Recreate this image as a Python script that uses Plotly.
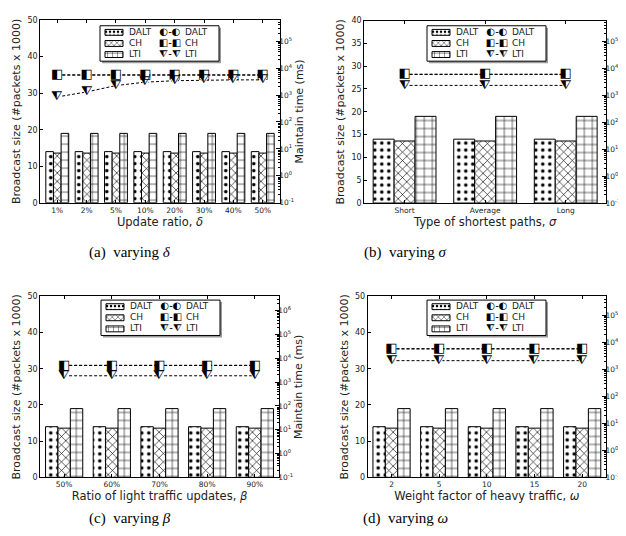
import plotly.graph_objects as go

W, H = 626, 536

series = ["DALT", "CH", "LTI"]

# ---------------- data ----------------
cats_a = ["1%", "2%", "5%", "10%", "20%", "30%", "40%", "50%"]
size_dalt_a = [14.0, 14.0, 14.0, 14.0, 14.0, 14.0, 14.0, 14.0]
size_ch_a = [13.6, 13.6, 13.6, 13.6, 13.6, 13.6, 13.6, 13.6]
size_lti_a = [19.0, 19.0, 19.0, 19.0, 19.0, 19.0, 19.0, 19.0]
time_dalt_a = [5500, 5500, 5500, 5500, 5500, 5500, 5500, 5500]
time_ch_a = [5600, 5600, 5600, 5600, 5600, 5600, 5600, 5600]
time_lti_a = [850, 1300, 2250, 3000, 3400, 3600, 3650, 3650]

cats_b = ["Short", "Average", "Long"]
size_dalt_b = [14.0, 14.0, 14.0]
size_ch_b = [13.6, 13.6, 13.6]
size_lti_b = [19.0, 19.0, 19.0]
time_dalt_b = [6000, 6000, 6000]
time_ch_b = [6100, 6100, 6100]
time_lti_b = [2350, 2350, 2350]

cats_c = ["50%", "60%", "70%", "80%", "90%"]
size_dalt_c = [14.0, 14.0, 14.0, 14.0, 14.0]
size_ch_c = [13.6, 13.6, 13.6, 13.6, 13.6]
size_lti_c = [19.0, 19.0, 19.0, 19.0, 19.0]
time_dalt_c = [5000, 5000, 5000, 5000, 5000]
time_ch_c = [5100, 5100, 5100, 5100, 5100]
time_lti_c = [1850, 1850, 1850, 1850, 1850]

cats_d = ["2", "5", "10", "15", "20"]
size_dalt_d = [14.0, 14.0, 14.0, 14.0, 14.0]
size_ch_d = [13.6, 13.6, 13.6, 13.6, 13.6]
size_lti_d = [19.0, 19.0, 19.0, 19.0, 19.0]
time_dalt_d = [5700, 5700, 5700, 5700, 5700]
time_ch_d = [5800, 5800, 5800, 5800, 5800]
time_lti_d = [2100, 2100, 2100, 2100, 2100]

log_tick_exps = [-1, 0, 1, 2, 3, 4, 5, 6]

# ---------------- styling ----------------
TXT = "#222222"
FONT = "DejaVu Sans"
glyphs = ["\u25D0", "\u25E7", "\u29E8"]
under_symbols = ["circle", "square", "triangle-down"]
patterns = [
    dict(shape=".", size=7, solidity=0.2),
    dict(shape="x", size=6, solidity=0.2),
    dict(shape="+", size=8, solidity=0.14),
]

panels = [
    dict(cats=cats_a, sizes=[size_dalt_a, size_ch_a, size_lti_a],
         times=[time_dalt_a, time_ch_a, time_lti_a],
         xpx=(32.3, 271.7), ypx=(8.3, 194.0), yr=[0, 50], dt=10, logtop=5.78,
         xtitle="Update ratio, <i>δ</i>", cap="(a)  varying <i>δ</i>", cappx=(122, 245),
         leg=(92, 14)),
    dict(cats=cats_b, sizes=[size_dalt_b, size_ch_b, size_lti_b],
         times=[time_dalt_b, time_ch_b, time_lti_b],
         xpx=(356.3, 598.0), ypx=(8.7, 194.3), yr=[0, 40], dt=5, logtop=5.78,
         xtitle="Type of shortest paths, <i>σ</i>", cap="(b)  varying <i>σ</i>", cappx=(397, 245),
         leg=(419, 14)),
    dict(cats=cats_c, sizes=[size_dalt_c, size_ch_c, size_lti_c],
         times=[time_dalt_c, time_ch_c, time_lti_c],
         xpx=(32.3, 270.7), ypx=(289.3, 473.3), yr=[0, 50], dt=10, logtop=6.6,
         xtitle="Ratio of light traffic updates, <i>β</i>", cap="(c)  varying <i>β</i>", cappx=(122, 515),
         leg=(93, 293)),
    dict(cats=cats_d, sizes=[size_dalt_d, size_ch_d, size_lti_d],
         times=[time_dalt_d, time_ch_d, time_lti_d],
         xpx=(359.7, 598.0), ypx=(289.3, 473.3), yr=[0, 50], dt=10, logtop=5.7,
         xtitle="Weight factor of heavy traffic, <i>ω</i>", cap="(d)  varying <i>ω</i>", cappx=(397, 515),
         leg=(419, 293)),
]


def nm(prefix, n):
    return prefix + ("" if n == 1 else str(n))


fig = go.Figure()
layout = {}
shapes = []
annotations = []

LW, LH = 119, 36
row_y = [6.7, 18.0, 29.3]

minor_vals = [m * 10 ** e for e in range(-1, 7) for m in range(2, 10)]

for i, p in enumerate(panels, start=1):
    xa, ya, yr2 = nm("x", i), nm("y", i), nm("y", i + 4)
    ix, iy = nm("x", i + 4), nm("y", i + 8)

    # bars (broadcast size)
    for k in range(3):
        fig.add_trace(go.Bar(
            x=p["cats"], y=p["sizes"][k], name=series[k], xaxis=xa, yaxis=ya,
            marker=dict(color="white", line=dict(color="black", width=1),
                        pattern=dict(fgcolor="black", bgcolor="white", fillmode="replace",
                                     **patterns[k])),
            showlegend=False, hoverinfo="skip"))
    # lines (maintain time, log axis)
    for k in range(3):
        if k == 0:
            fig.add_trace(go.Scatter(
                x=p["cats"], y=p["times"][k], xaxis=xa, yaxis=yr2, mode="lines+markers",
                line=dict(color="black", dash="3px,2px", width=1),
                marker=dict(symbol="circle", size=6, color="white",
                            line=dict(color="black", width=1)),
                showlegend=False, hoverinfo="skip"))
            continue
        fig.add_trace(go.Scatter(
            x=p["cats"], y=p["times"][k], xaxis=xa, yaxis=yr2, mode="lines+markers",
            line=dict(color="black", dash="3px,2px", width=1),
            marker=dict(symbol=under_symbols[k], size=8, color="white"),
            showlegend=False, hoverinfo="skip"))
        fig.add_trace(go.Scatter(
            x=p["cats"], y=p["times"][k], xaxis=xa, yaxis=yr2, mode="text",
            text=[glyphs[k]] * len(p["cats"]), textposition="middle center",
            textfont=dict(family=FONT, size=13, color="black"),
            showlegend=False, hoverinfo="skip"))

    x0, x1 = p["xpx"]
    yt, yb = p["ypx"]
    layout[nm("xaxis", i)] = dict(
        domain=[x0 / W, x1 / W], anchor=ya, type="category",
        showline=True, linecolor="black", linewidth=1, mirror="ticks",
        ticks="inside", ticklen=3, tickcolor="black",
        tickfont=dict(family=FONT, size=7.5, color=TXT),
        title=dict(text=p["xtitle"], font=dict(family=FONT, size=11.5, color=TXT), standoff=0),
        showgrid=False, zeroline=False)
    layout[nm("yaxis", i)] = dict(
        domain=[1 - yb / H, 1 - yt / H], anchor=xa, range=p["yr"], dtick=p["dt"],
        showline=True, linecolor="black", linewidth=1,
        ticks="inside", ticklen=3, tickcolor="black",
        tickfont=dict(family=FONT, size=8, color=TXT),
        title=dict(text="Broadcast size (#packets x 1000)", font=dict(family=FONT, size=11, color=TXT), standoff=4),
        showgrid=False, zeroline=False)
    layout[nm("yaxis", i + 4)] = dict(
        overlaying=ya, anchor=xa, side="right", type="log", range=[-1, p["logtop"]],
        tickmode="array", tickvals=[10 ** e for e in log_tick_exps],
        ticktext=["10<sup>%d</sup>" % e for e in log_tick_exps],
        showline=True, linecolor="black", linewidth=1,
        ticks="inside", ticklen=4, tickcolor="black", ticklabelstandoff=-3,
        minor=dict(tickmode="array", tickvals=minor_vals, ticks="inside", ticklen=2,
                   tickcolor="black", showgrid=False),
        tickfont=dict(family=FONT, size=7.5, color=TXT),
        title=dict(text="Maintain time (ms)", font=dict(family=FONT, size=11, color=TXT), standoff=2),
        showgrid=False, zeroline=False)

    # inset legend
    lx, ly = p["leg"]
    layout[nm("xaxis", i + 4)] = dict(domain=[lx / W, (lx + LW) / W], range=[0, LW],
                                      anchor=iy, visible=False, fixedrange=True)
    layout[nm("yaxis", i + 8)] = dict(domain=[1 - (ly + LH) / H, 1 - ly / H], range=[LH, 0],
                                      anchor=ix, visible=False, fixedrange=True)
    fig.add_trace(go.Bar(
        orientation="h", y=row_y, x=[18, 18, 18], base=[5, 5, 5], width=6,
        xaxis=ix, yaxis=iy,
        marker=dict(color="white", line=dict(color="black", width=1),
                    pattern=dict(shape=[pt["shape"] for pt in patterns],
                                 size=[4, 4, 5], solidity=[0.3, 0.2, 0.15],
                                 fgcolor="black", bgcolor="white", fillmode="replace")),
        showlegend=False, hoverinfo="skip"))
    fig.add_trace(go.Scatter(
        x=[29, 29, 29], y=row_y, mode="text", text=series, textposition="middle right",
        textfont=dict(family=FONT, size=9, color=TXT), xaxis=ix, yaxis=iy,
        showlegend=False, hoverinfo="skip"))
    fig.add_trace(go.Scatter(
        x=[70, 70, 70], y=row_y, mode="text", text=[g + "-" + g for g in glyphs],
        textposition="middle center",
        textfont=dict(family=FONT, size=10, color="black"), xaxis=ix, yaxis=iy,
        showlegend=False, hoverinfo="skip"))
    fig.add_trace(go.Scatter(
        x=[85, 85, 85], y=row_y, mode="text", text=series, textposition="middle right",
        textfont=dict(family=FONT, size=9, color=TXT), xaxis=ix, yaxis=iy,
        showlegend=False, hoverinfo="skip"))
    shapes.append(dict(type="rect", xref="paper", yref="paper", layer="below",
                       x0=(lx + 2) / W, x1=(lx + LW + 2) / W,
                       y0=1 - (ly + LH + 2) / H, y1=1 - (ly + 2) / H,
                       fillcolor="#9a9a9a", line=dict(width=0)))
    shapes.append(dict(type="rect", xref="paper", yref="paper", layer="below",
                       x0=lx / W, x1=(lx + LW) / W,
                       y0=1 - (ly + LH) / H, y1=1 - ly / H,
                       fillcolor="white", line=dict(color="black", width=1)))

    cx, cy = p["cappx"]
    annotations.append(dict(text=p["cap"], xref="paper", yref="paper",
                            x=cx / W, y=1 - cy / H, showarrow=False,
                            xanchor="center", yanchor="middle",
                            font=dict(family="Liberation Serif", size=15, color="black")))

fig.update_layout(
    width=W, height=H, margin=dict(l=0, r=0, t=0, b=0),
    paper_bgcolor="white", plot_bgcolor="rgba(0,0,0,0)",
    barmode="group", bargap=0.22, bargroupgap=0.0,
    showlegend=False, shapes=shapes, annotations=annotations,
    font=dict(family=FONT, color=TXT),
    **layout)

fig.write_html("out.html")
